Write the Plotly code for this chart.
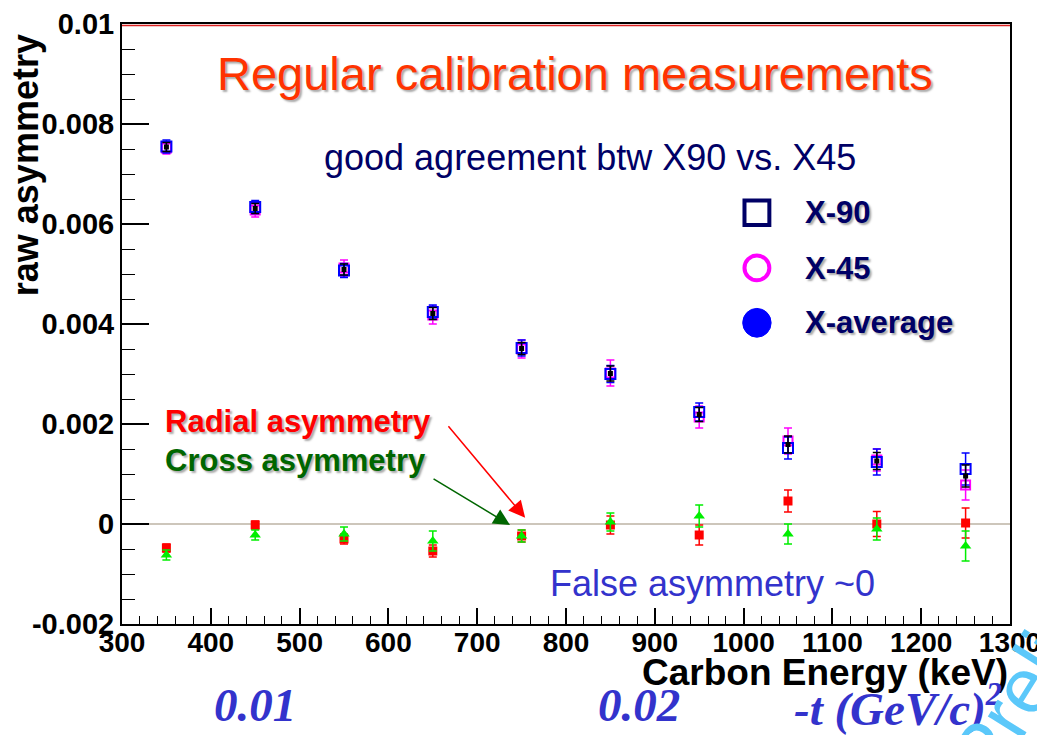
import plotly.graph_objects as go

# Carbon energy bins (keV)
energy = [350, 450, 550, 650, 750, 850, 950, 1050, 1150, 1250]

# raw asymmetry, X-90 / X-45 / average
x90 = [0.00755, 0.00634, 0.00507, 0.00424, 0.00352, 0.00300, 0.00224, 0.00152, 0.00124, 0.00110]
x90_err = [0.00013, 0.00013, 0.00014, 0.00014, 0.00016, 0.00017, 0.00018, 0.00022, 0.00026, 0.00032]
x45 = [0.00752, 0.00628, 0.00512, 0.00418, 0.00350, 0.00302, 0.00214, 0.00166, 0.00128, 0.00078]
x45_err = [0.00012, 0.00014, 0.00016, 0.00018, 0.00018, 0.00026, 0.00022, 0.00026, 0.00022, 0.00030]
xavg = [0.00754, 0.00631, 0.00509, 0.00421, 0.00351, 0.00301, 0.00219, 0.00159, 0.00126, 0.00096]
xavg_err = [0.00009, 0.00010, 0.00011, 0.00012, 0.00012, 0.00015, 0.00014, 0.00017, 0.00017, 0.00022]

# false asymmetries
radial = [-0.00048, -0.00002, -0.00030, -0.00054, -0.00024, -0.00002, -0.00022, 0.00046, 0.00000, 0.00002]
radial_err = [0.00008, 0.00008, 0.00010, 0.00012, 0.00012, 0.00018, 0.00020, 0.00022, 0.00025, 0.00030]
cross = [-0.00062, -0.00022, -0.00020, -0.00034, -0.00024, 0.00004, 0.00016, -0.00020, -0.00010, -0.00044]
cross_err = [0.00010, 0.00010, 0.00014, 0.00020, 0.00012, 0.00018, 0.00022, 0.00020, 0.00022, 0.00030]

# axis ticks
x_ticks = [300, 400, 500, 600, 700, 800, 900, 1000, 1100, 1200, 1300]
y_ticks = [-0.002, 0, 0.002, 0.004, 0.006, 0.008, 0.01]
y_labels = ["-0.002", "0", "0.002", "0.004", "0.006", "0.008", "0.01"]

fig = go.Figure()

def err(a, c):
    return dict(type="data", array=a, color=c, thickness=1.5, width=4)

fig.add_trace(go.Scatter(x=energy, y=radial, mode="markers", error_y=err(radial_err, "#ff0000"),
                         marker=dict(symbol="square", size=9, color="#ff0000")))
fig.add_trace(go.Scatter(x=energy, y=cross, mode="markers", error_y=err(cross_err, "#00ee00"),
                         marker=dict(symbol="triangle-up", size=10, color="#00ee00")))
fig.add_trace(go.Scatter(x=energy, y=x45, mode="markers", error_y=err(x45_err, "#ff00ff"),
                         marker=dict(symbol="square-open", size=9, color="#ff00ff", line=dict(width=2))))
fig.add_trace(go.Scatter(x=energy, y=x90, mode="markers", error_y=err(x90_err, "#0000ff"),
                         marker=dict(symbol="square-open", size=10, color="#0000ff", line=dict(width=2))))
fig.add_trace(go.Scatter(x=energy, y=xavg, mode="markers", error_y=err(xavg_err, "#000000"),
                         marker=dict(symbol="square", size=5, color="#000000")))

# zero line and red line under the top frame
fig.add_hline(y=0, line=dict(color="#cdc6bb", width=2), layer="below")
fig.add_hline(y=0.00997, line=dict(color="#dd2222", width=1.5), layer="below")

shadow = "2px 2px 2px #aaaaaa"
LS = "Liberation Sans"

def note(text, x, y, size, color, xanchor="left", family=LS, shadow_=None, angle=0):
    f = dict(size=size, color=color, family=family)
    if shadow_:
        f["shadow"] = shadow_
    return dict(text=text, x=x, y=y, xref="paper", yref="paper", xanchor=xanchor, yanchor="middle",
                textangle=angle, showarrow=False, font=f)

ann = []
ann.append(note("Regular calibration measurements", 0.51, 0.918, 47, "#ff3300", "center", shadow_=shadow))
ann.append(note("good agreement btw X90 vs. X45", 0.225, 0.778, 36, "#000066"))
for txt, yy in [("X-90", 0.685), ("X-45", 0.593), ("X-average", 0.502)]:
    ann.append(note("<b>%s</b>" % txt, 0.767, yy, 31, "#000066", shadow_=shadow))
ann.append(note("<b>Radial asymmetry</b>", 0.046, 0.338, 31, "#ff0000", shadow_=shadow))
ann.append(note("<b>Cross asymmetry</b>", 0.046, 0.273, 31, "#006600", shadow_=shadow))
# arrows
ann.append(dict(x=0.454, y=0.177, ax=-78, ay=-93, xref="paper", yref="paper",
                axref="pixel", ayref="pixel", text="", showarrow=True, arrowhead=2, arrowsize=2.2,
                arrowwidth=1.5, arrowcolor="#ff0000"))
ann.append(dict(x=0.437, y=0.165, ax=-78, ay=-47, xref="paper", yref="paper",
                axref="pixel", ayref="pixel", text="", showarrow=True, arrowhead=2, arrowsize=2.2,
                arrowwidth=1.5, arrowcolor="#006600"))
ann.append(note("False asymmetry ~0", 0.48, 0.067, 36, "#3333cc"))
# axis titles
ann.append(note("<b>Carbon Energy (keV)</b>", 1.0, -0.08, 37, "black", "right"))
ann.append(note("<b>raw asymmetry</b>", -0.109, 0.765, 36, "black", "center", angle=-90))
# -t scale below axis
ann.append(note("<b><i>0.01</i></b>", 0.15, -0.135, 47, "#3333cc", "center", family="Liberation Serif"))
ann.append(note("<b><i>0.02</i></b>", 0.582, -0.135, 47, "#3333cc", "center", family="Liberation Serif"))
ann.append(note("<b><i>-t (GeV/c)<sup>2</sup></i></b>", 0.755, -0.135, 47, "#3333cc",
                family="Liberation Serif"))
# watermark
ann.append(note("Preliminary", 1.071, 0.028, 78, "#5bc8fa", "center", angle=-58))
fig.update_layout(annotations=ann)

# legend markers
fig.add_shape(type="rect", xref="paper", yref="paper", x0=0.701, x1=0.729, y0=0.665, y1=0.706,
              line=dict(color="#000066", width=4))
fig.add_shape(type="circle", xref="paper", yref="paper", x0=0.701, x1=0.729, y0=0.573, y1=0.614,
              line=dict(color="#ff00ff", width=4))
fig.add_shape(type="circle", xref="paper", yref="paper", x0=0.699, x1=0.731, y0=0.478, y1=0.526,
              fillcolor="#0000ff", line=dict(color="#0000ff", width=1))

fig.update_xaxes(range=[300, 1300], tickvals=x_ticks, ticks="inside", ticklen=16, tickwidth=1.5,
                 tickcolor="black", showline=True, linecolor="black", linewidth=2, mirror=True,
                 showgrid=False, zeroline=False, automargin=False, ticklabelstandoff=-8,
                 minor=dict(ticks="inside", ticklen=8, dtick=20, tickcolor="black", tickwidth=1),
                 tickfont=dict(size=28, color="black", family=LS, weight="bold"))
fig.update_yaxes(range=[-0.002, 0.01], tickvals=y_ticks, ticktext=y_labels, ticks="inside", ticklen=27,
                 tickwidth=1.5, tickcolor="black", showline=True, linecolor="black", linewidth=2,
                 mirror=True, showgrid=False, zeroline=False, automargin=False,
                 minor=dict(ticks="inside", ticklen=13, dtick=0.0005, tickcolor="black", tickwidth=1),
                 tickfont=dict(size=29, color="black", family=LS, weight="bold"))

# the page adds an 8px body margin, so the plot margins are 8px smaller
fig.update_layout(width=1045, height=735, showlegend=False,
                  margin=dict(l=114, r=43, t=16, b=119),
                  paper_bgcolor="white", plot_bgcolor="white",
                  font=dict(family=LS))

fig.write_html("out.html")
